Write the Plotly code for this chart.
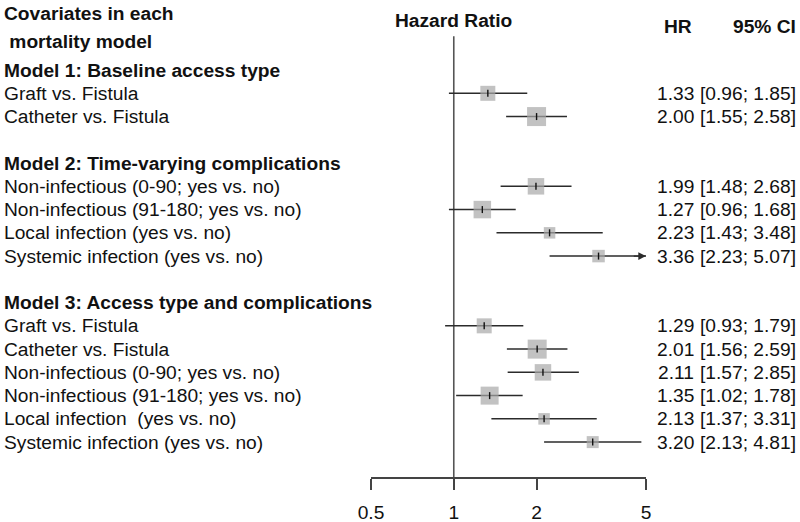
import math
import plotly.graph_objects as go

# ---- data ----
labels = [
    "Graft vs. Fistula", "Catheter vs. Fistula",
    "Non-infectious (0-90; yes vs. no)", "Non-infectious (91-180; yes vs. no)",
    "Local infection (yes vs. no)", "Systemic infection (yes vs. no)",
    "Graft vs. Fistula", "Catheter vs. Fistula",
    "Non-infectious (0-90; yes vs. no)", "Non-infectious (91-180; yes vs. no)",
    "Local infection  (yes vs. no)", "Systemic infection (yes vs. no)",
]
rows = [0, 1, 4, 5, 6, 7, 10, 11, 12, 13, 14, 15]
hr = [1.33, 2.00, 1.99, 1.27, 2.23, 3.36, 1.29, 2.01, 2.11, 1.35, 2.13, 3.20]
lo = [0.96, 1.55, 1.48, 0.96, 1.43, 2.23, 0.93, 1.56, 1.57, 1.02, 1.37, 2.13]
hi = [1.85, 2.58, 2.68, 1.68, 3.48, 5.07, 1.79, 2.59, 2.85, 1.78, 3.31, 4.81]
weights = [15, 19, 16.5, 17.5, 11.5, 12.5, 15, 19, 16.5, 18, 11.5, 12]
group_titles = ["Model 1: Baseline access type",
                "Model 2: Time-varying complications",
                "Model 3: Access type and complications"]
group_rows = [-1, 3, 9]
tick_vals = [0.5, 1, 2, 5]
tick_text = ["0.5", "1", "2", "5"]
x_max = 5

FONT = "Liberation Sans, Arial, sans-serif"
FS = 19.2
DARK = "#2b2b2b"

fig = go.Figure()

# reference line at HR = 1
fig.add_trace(go.Scatter(x=[1, 1], y=[-2.45, 16.5], mode="lines",
                         line=dict(color="#555555", width=1.6),
                         hoverinfo="skip", showlegend=False, cliponaxis=False))

# confidence intervals
for r, l, h in zip(rows, lo, hi):
    fig.add_trace(go.Scatter(x=[l, min(h, x_max)], y=[r, r], mode="lines",
                             line=dict(color=DARK, width=1.5),
                             hoverinfo="skip", showlegend=False, cliponaxis=False))

# squares
fig.add_trace(go.Scatter(x=hr, y=rows, mode="markers",
                         marker=dict(symbol="square", size=weights, color="#a8a8a8",
                                     line=dict(width=0)),
                         showlegend=False, cliponaxis=False))
# center ticks
fig.add_trace(go.Scatter(x=hr, y=rows, mode="markers",
                         marker=dict(symbol="line-ns", size=5,
                                     line=dict(color="#111111", width=1.4)),
                         showlegend=False, cliponaxis=False))

ann = []
# arrows for clipped intervals
for r, l, h in zip(rows, lo, hi):
    if h > x_max:
        ann.append(dict(x=math.log10(x_max), y=r, ax=math.log10(x_max) - 0.05, ay=r,
                        xref="x", yref="y", axref="x", ayref="y", text="",
                        showarrow=True, arrowhead=2, arrowsize=1.1, arrowwidth=1.4,
                        arrowcolor=DARK))

# row labels and numbers
for lab, r, h, l, u in zip(labels, rows, hr, lo, hi):
    ann.append(dict(x=2 / 800, y=r, xref="paper", yref="y", text=lab,
                    xanchor="left", yanchor="middle", showarrow=False,
                    font=dict(family=FONT, size=FS, color="#111")))
    ann.append(dict(x=696 / 800, y=r, xref="paper", yref="y", text=f"{h:.2f}",
                    xanchor="right", yanchor="middle", showarrow=False,
                    font=dict(family=FONT, size=FS, color="#111")))
    ann.append(dict(x=798 / 800, y=r, xref="paper", yref="y",
                    text=f"[{l:.2f}; {u:.2f}]",
                    xanchor="right", yanchor="middle", showarrow=False,
                    font=dict(family=FONT, size=FS, color="#111")))

for t, r in zip(group_titles, group_rows):
    ann.append(dict(x=2 / 800, y=r, xref="paper", yref="y", text=f"<b>{t}</b>",
                    xanchor="left", yanchor="middle", showarrow=False,
                    font=dict(family=FONT, size=FS, color="#111")))

headers = [
    ("<b>Covariates in each</b>", 2 / 800, -3.42, "left"),
    ("<b> mortality model</b>", 2 / 800, -2.22, "left"),
    ("<b>Hazard Ratio</b>", 453 / 800, -3.12, "center"),
    ("<b>HR</b>", 694 / 800, -2.87, "right"),
    ("<b>95% CI</b>", 798 / 800, -2.87, "right"),
]
for t, x, y, xa in headers:
    ann.append(dict(x=x, y=y, xref="paper", yref="y", text=t, xanchor=xa,
                    yanchor="middle", showarrow=False,
                    font=dict(family=FONT, size=FS, color="#111")))

fig.update_layout(
    width=800, height=522,
    margin=dict(l=0, r=0, t=0, b=0, pad=0, autoexpand=False),
    paper_bgcolor="white", plot_bgcolor="white",
    annotations=ann,
    xaxis=dict(type="log", range=[math.log10(0.5), math.log10(5)],
               domain=[371 / 800, 646 / 800],
               tickvals=tick_vals, ticktext=tick_text,
               ticks="outside", ticklen=11, tickwidth=1.6, tickcolor="#444",
               ticklabelstandoff=6,
               showline=True, linecolor="#444", linewidth=1.6,
               showgrid=False, zeroline=False,
               tickfont=dict(family=FONT, size=FS, color="#111")),
    yaxis=dict(domain=[45 / 522, 1], range=[16.5, -4.013], visible=False),
)

fig.write_html("out.html", config={"displayModeBar": False},
               post_script="document.body.style.margin='0';document.body.style.overflow='hidden';")
